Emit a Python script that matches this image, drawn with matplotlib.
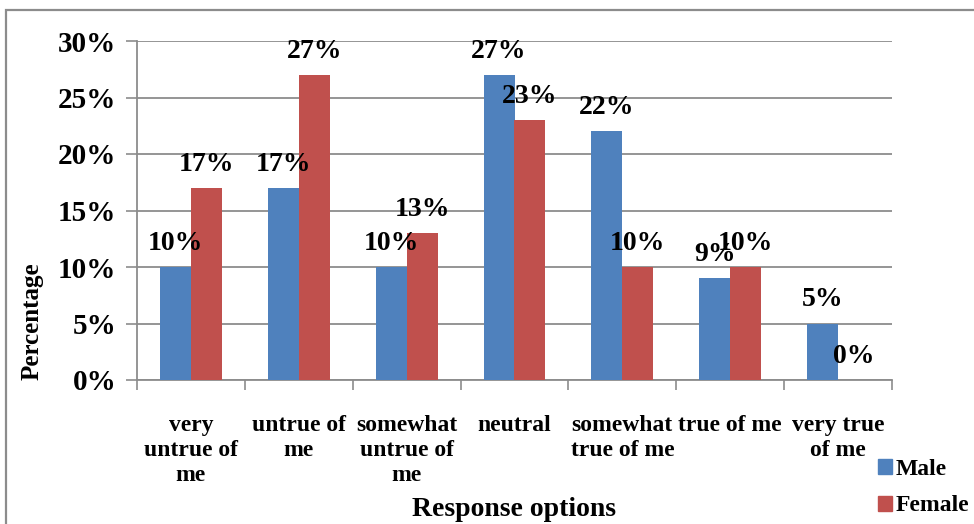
import numpy as np
import matplotlib.pyplot as plt
from matplotlib.patches import Patch, Rectangle

plt.rcParams['font.family'] = ['Liberation Serif', 'DejaVu Serif']
plt.rcParams['font.weight'] = 'bold'

categories = ["very\nuntrue of\nme", "untrue of\nme", "somewhat\nuntrue of\nme",
              "neutral", "somewhat\ntrue of me", "true of me", "very true\nof me"]
male = [10, 17, 10, 27, 22, 9, 5]
female = [17, 27, 13, 23, 10, 10, 0]
y_ticks = [0, 5, 10, 15, 20, 25, 30]

BLUE = '#4F81BD'
RED = '#C0504D'
GRID = '#8C8C8C'

W, H = 974, 524
fig = plt.figure(figsize=(W / 100, H / 100), dpi=100)
ax = fig.add_axes([137 / W, 1 - 380 / H, 755 / W, 339 / H])

# рамка вокруг всей диаграммы (уходит за правый и нижний край)
fig.patches.append(Rectangle((6 / W, -0.1), 1.2, 1 - 10 / H + 0.1,
                             transform=fig.transFigure, fill=False,
                             edgecolor='#8C8C8C', linewidth=1.6))

x = np.arange(len(categories))
bw = 0.287
bars_m = ax.bar(x - bw / 2, male, bw, color=BLUE, zorder=3)
bars_f = ax.bar(x + bw / 2, female, bw, color=RED, zorder=3)

for bars, vals in ((bars_m, male), (bars_f, female)):
    for b, v in zip(bars, vals):
        ax.annotate(f"{v}%", (b.get_x() + b.get_width() / 2, v),
                    xytext=(0, 17), textcoords='offset points',
                    ha='center', va='center', fontsize=20, fontweight='bold',
                    zorder=5)

ax.set_xlim(-0.5, len(categories) - 0.5)
ax.set_ylim(0, 30)
ax.set_yticks(y_ticks)
ax.set_yticklabels([f"{t}%" for t in y_ticks], fontsize=21, fontweight='bold')
ax.yaxis.grid(True, color=GRID, linewidth=1.3, zorder=0)
ax.tick_params(axis='y', length=8, width=1.2, color=GRID, pad=7)

ax.set_xticks(x)
ax.set_xticklabels(categories, fontsize=17, fontweight='bold', linespacing=1.25)
ax.set_xticks(np.arange(len(categories) + 1) - 0.5, minor=True)
ax.tick_params(axis='x', which='major', length=0, pad=25)
ax.tick_params(axis='x', which='minor', length=7, width=1.2, color=GRID)

for side in ('top', 'right'):
    ax.spines[side].set_visible(False)
for side in ('left', 'bottom'):
    ax.spines[side].set_color(GRID)
    ax.spines[side].set_linewidth(1.3)

fig.text(514 / W, 1 - 510 / H, "Response options", ha='center', va='center',
         fontsize=20, fontweight='bold')
fig.text(32 / W, 1 - 321 / H, "Percentage", ha='center', va='center',
         rotation=90, fontsize=18, fontweight='bold')

handles = [Patch(color=BLUE), Patch(color=RED)]
fig.legend(handles, ["Male", "Female"], loc='upper left',
           bbox_to_anchor=(878 / W, 1 - 459 / H), frameon=False,
           prop={'weight': 'bold', 'size': 17},
           handlelength=0.6, handleheight=0.6, handletextpad=0.15,
           labelspacing=0.65, borderpad=0, borderaxespad=0)

fig.savefig('out.png', dpi=100)
